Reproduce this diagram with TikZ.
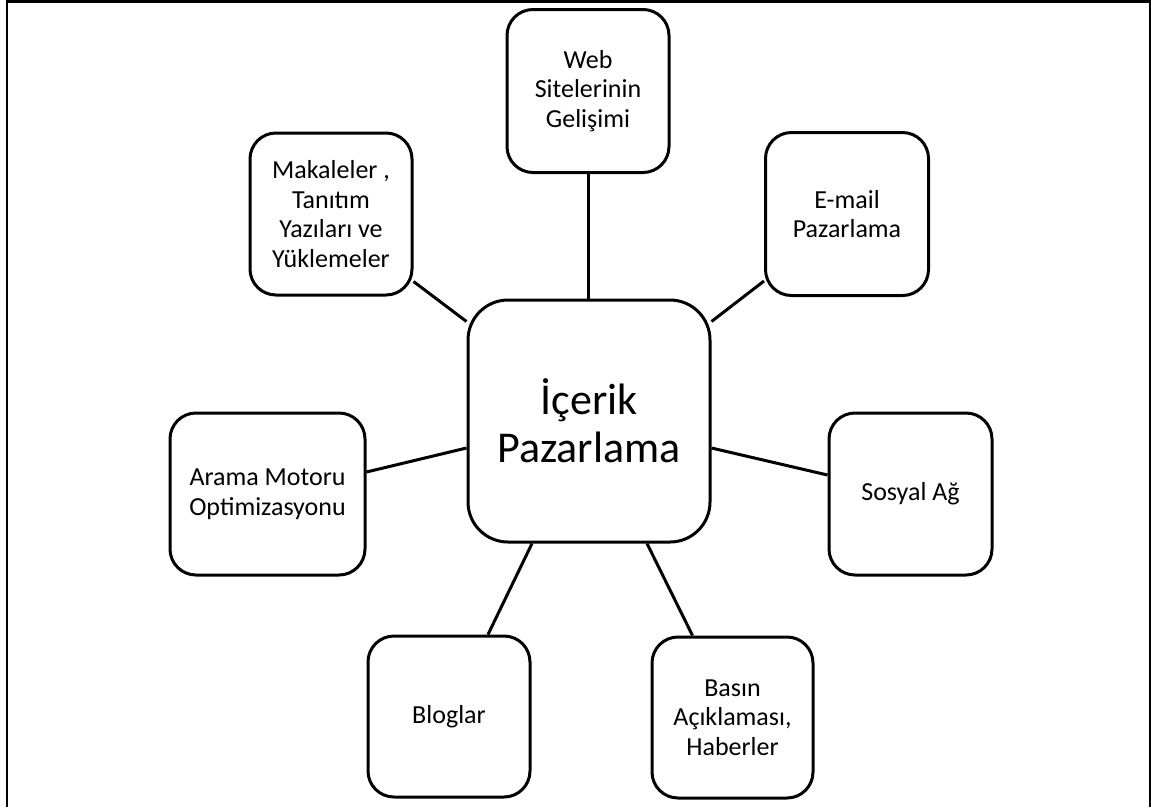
\documentclass[tikz,border=0pt]{standalone}
\usepackage{fontspec}
\setmainfont{Carlito}
\usetikzlibrary{calc}
\tikzset{
  box/.style={draw=black, line width=3pt, rounded corners=26pt, inner sep=0pt,
    align=center, font=\fontsize{26}{29.5}\selectfont, fill=white},
  bigbox/.style={draw=black, line width=3pt, rounded corners=40pt, inner sep=0pt,
    align=center, font=\fontsize{44}{48}\selectfont, fill=white},
  link/.style={draw=black, line width=3pt},
  frame/.style={draw=black, line width=2.5pt}
}
\begin{document}
\begin{tikzpicture}[x=1pt,y=-1pt]
\useasboundingbox (0,0) rectangle (1151,807);
\fill[white] (0,0) rectangle (1151,807);
\coordinate (f1) at (7,807);
\coordinate (f2) at (7,1.5);
\coordinate (f3) at (1150,1.5);
\coordinate (f4) at (1150,807);
\draw[frame] (f1) -- (f2) -- (f3) -- (f4);

\node[bigbox, minimum width=242pt, minimum height=242pt] (c) at (589,421) {İçerik\\Pazarlama};
\node[box, minimum width=162pt, minimum height=163pt] (web) at (588,91) {Web\\Sitelerinin\\Gelişimi};
\node[box, minimum width=162pt, minimum height=162pt] (mak) at (331,214) {Makaleler ,\\Tanıtım\\Yazıları ve\\Yüklemeler};
\node[box, minimum width=163pt, minimum height=163pt] (em) at (847,214) {E-mail\\Pazarlama};
\node[box, minimum width=195pt, minimum height=162pt] (ar) at (267.5,494) {Arama Motoru\\Optimizasyonu};
\node[box, minimum width=163pt, minimum height=162pt] (so) at (910.5,494) {Sosyal Ağ};
\node[box, minimum width=162pt, minimum height=161pt] (bl) at (449,716.5) {Bloglar};
\node[box, minimum width=161pt, minimum height=161pt] (ba) at (732.5,717.5) {Basın\\Açıklaması,\\Haberler};

\draw[link] (web.south) -- (c.north -| web.south);
\draw[link] ($(mak.south east)+(0,-15)$) -- ($(c.north west)+(0,23)$);
\draw[link] ($(em.south west)+(0,-16)$) -- ($(c.north east)+(0,23)$);
\draw[link] ($(ar.east)+(0,-22)$) -- ($(c.west)+(0,27)$);
\draw[link] ($(c.east)+(0,27)$) -- ($(so.west)+(0,-19)$);
\draw[link] ($(c.south)+(-57,0)$) -- ($(bl.north)+(39,0)$);
\draw[link] ($(c.south)+(58,0)$) -- ($(ba.north)+(-40,0)$);
\end{tikzpicture}
\end{document}
